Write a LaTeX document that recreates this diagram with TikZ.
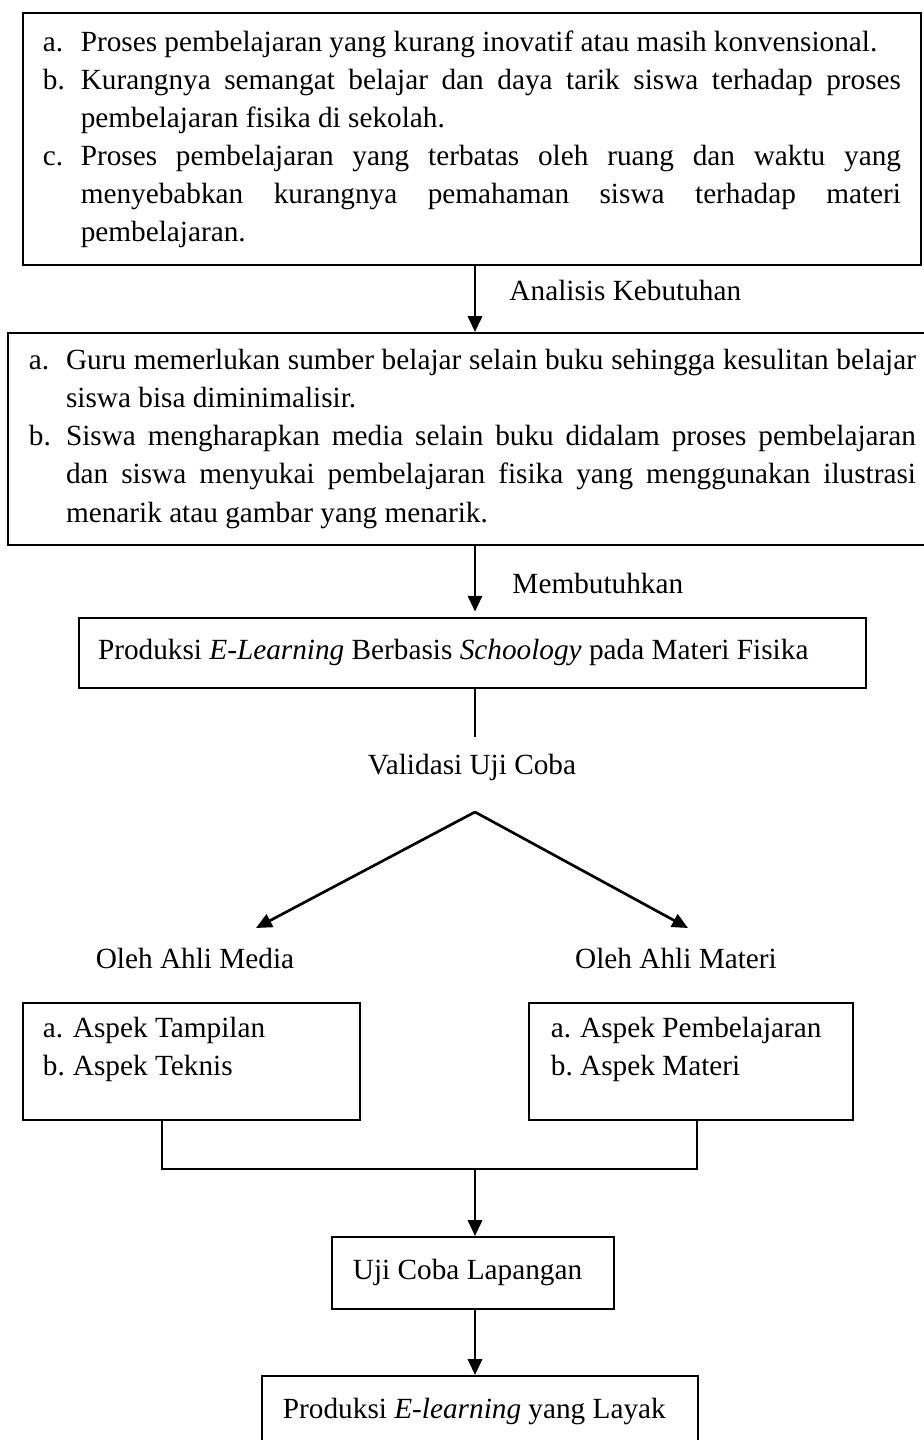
\documentclass[tikz,border=0pt]{standalone}
\usepackage{fontspec}
\setmainfont{Liberation Serif}
\usepackage{tikz}
\usetikzlibrary{arrows.meta}
\hyphenpenalty=10000
\hbadness=10000
\newcommand{\butir}[3][15.5pt]{\par\noindent\hangindent=#1\hangafter=1\makebox[#1][l]{#2}#3\par}

\begin{document}
\begin{tikzpicture}[x=0.41pt,y=-0.41pt,font=\fontsize{12}{15.6}\selectfont]
		\useasboundingbox (0,0) rectangle (923,1440);
		\coordinate (tulang) at (475,0);
		\coordinate (ujungGaris) at (475,737);
		\coordinate (cabang) at (475,812);
		\coordinate (ujungMedia) at (256,928);
		\coordinate (ujungMateri) at (688,928);
		\coordinate (kakiKiri) at (162,1169);
		\coordinate (kakiKanan) at (697,1169);

		\begin{scope}[every node/.style={draw,line width=0.8pt,inner ysep=0pt,anchor=north west}]
		    \node[inner xsep=8.2pt] (masalah) at (22,12) {\parbox[c][103.3pt][c]{351.8pt}{%
		    	\butir{a.}{Proses pembelajaran yang kurang inovatif atau masih konvensional.}
		    	\butir{b.}{Kurangnya semangat belajar dan daya tarik siswa terhadap proses\linebreak pembelajaran fisika di sekolah.}
		    	\butir{c.}{Proses pembelajaran yang terbatas oleh ruang dan waktu yang\linebreak menyebabkan kurangnya pemahaman siswa terhadap materi\linebreak pembelajaran.}}};
		    \node[inner xsep=8.6pt] (kebutuhan) at (7,332) {\parbox[c][86.9pt][c]{363.7pt}{%
		    	\butir[15.2pt]{a.}{Guru memerlukan sumber belajar selain buku sehingga kesulitan belajar\linebreak siswa bisa diminimalisir.}
		    	\butir[15.2pt]{b.}{Siswa mengharapkan media selain buku didalam proses pembelajaran\linebreak dan siswa menyukai pembelajaran fisika yang menggunakan ilustrasi\linebreak menarik atau gambar yang menarik.}}};
		    \node[inner xsep=7.8pt,minimum height=28.7pt] (produksi) at (78,617) {\makebox[307.1pt][l]{Produksi \textit{E-Learning} Berbasis \textit{Schoology} pada Materi Fisika}};
		    \node[inner xsep=8.2pt] (aspekMedia) at (22,1002) {\parbox[c][48pt][t]{121.8pt}{\vspace*{6pt}%
		    	\butir[12.3pt]{a.}{Aspek Tampilan}
		    	\butir[12.3pt]{b.}{Aspek Teknis}}};
		    \node[inner xsep=9pt] (aspekMateri) at (528,1002) {\parbox[c][48pt][t]{114.8pt}{\vspace*{6pt}%
		    	\butir[12pt]{a.}{Aspek Pembelajaran}
		    	\butir[12pt]{b.}{Aspek Materi}}};
		    \node[inner xsep=8.6pt,minimum height=29.5pt] (ujiLapangan) at (331,1236) {\makebox[98.4pt][l]{Uji Coba Lapangan}};
		    \node[inner xsep=8.6pt,minimum height=29.5pt] (layak) at (261,1375) {\makebox[161.6pt][l]{Produksi \textit{E-learning} yang Layak}};
		\end{scope}

		\begin{scope}[every node/.style={inner sep=0pt}]
		    \node[anchor=west] (analisis) at (509,290) {Analisis Kebutuhan};
		    \node[anchor=west] (membutuhkan) at (512,583) {Membutuhkan};
		    \node (validasi) at (472,767) {Validasi Uji Coba};
		    \node (olehMedia) at (195,958) {Oleh Ahli Media};
		    \node (olehMateri) at (676,958) {Oleh Ahli Materi};
		\end{scope}

		\begin{scope}[>={Triangle[length=6.5pt,width=5.8pt]},
		              line width=0.8pt,
		              every edge/.style={draw=black,line width=1.1pt}]
		    \path (masalah.south -| tulang) edge[->] (kebutuhan.north -| tulang);
		    \path (kebutuhan.south -| tulang) edge[->,shorten >=2.2pt] (produksi.north -| tulang);
		    \path (produksi.south -| tulang) edge[line width=0.8pt] (ujungGaris);
		    \path (cabang) edge[->] (ujungMedia);
		    \path (cabang) edge[->] (ujungMateri);
		    \draw (aspekMedia.south -| kakiKiri) -- (kakiKiri) -- (kakiKanan) -- (aspekMateri.south -| kakiKanan);
		    \path (kakiKiri -| tulang) edge[->] (ujiLapangan.north -| tulang);
		    \path (ujiLapangan.south -| tulang) edge[->] (layak.north -| tulang);
		\end{scope}
\end{tikzpicture}
\end{document}
